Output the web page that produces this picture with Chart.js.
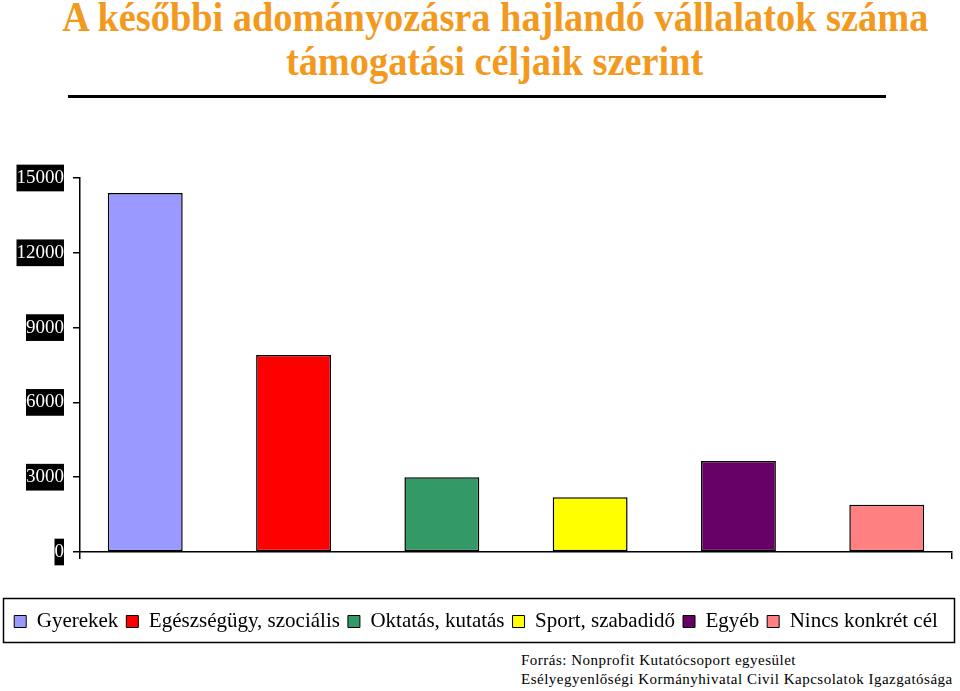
<!DOCTYPE html>
<html>
<head>
<meta charset="utf-8">
<script src="https://cdn.jsdelivr.net/npm/chart.js@4"></script>
<style>
  html, body { margin: 0; padding: 0; background: #fff; }
  body { width: 960px; height: 691px; position: relative; overflow: hidden; font-family: 'Liberation Serif', serif; }
  .title { position: absolute; left: 0; width: 990px; text-align: center; color: #F39A1E; font-family: 'Liberation Serif', serif; font-weight: bold; font-size: 42px; line-height: 45px; white-space: nowrap; }
  .title span { display: inline-block; transform-origin: center; }
  #rule { position: absolute; left: 68px; top: 95px; width: 818px; height: 3px; background: #000; }
  #chartbox { position: absolute; left: 0; top: 150px; width: 960px; height: 500px; }
  .source { position: absolute; left: 521px; font-size: 15px; line-height: 19px; color: #000; white-space: nowrap; letter-spacing: 0.5px; }
</style>
</head>
<body>
<div class="title" id="t1" style="top:-5px"><span>A későbbi adományozásra hajlandó vállalatok száma</span></div>
<div class="title" id="t2" style="top:39px"><span>támogatási céljaik szerint</span></div>
<div id="rule"></div>
<div id="chartbox"><canvas id="bar_chart"></canvas></div>
<div class="source" style="top:651px">Forrás: Nonprofit Kutatócsoport egyesület</div>
<div class="source" style="top:670px">Esélyegyenlőségi Kormányhivatal Civil Kapcsolatok Igazgatósága</div>

<script>
// categories and values
const categories = ['Gyerekek', 'Egészségügy, szociális', 'Oktatás, kutatás', 'Sport, szabadidő', 'Egyéb', 'Nincs konkrét cél'];
const companies = [14400, 7900, 3000, 2200, 3650, 1900];
const y_ticks = [0, 3000, 6000, 9000, 12000, 15000];
const colours = ['#9999FF', '#FF0000', '#339966', '#FFFF00', '#660066', '#FF8080'];

// squeeze the title a bit, the original font is narrower
const line1 = document.querySelector('#t1 span');
const squeeze = 866 / line1.getBoundingClientRect().width;
document.querySelectorAll('.title span').forEach(function (s) {
    s.style.transform = 'scaleX(' + squeeze + ')';
});

// box round the legend (a little taller than chart.js' own legend box)
const legendBorder = {
    id: 'legendBorder',
    afterDraw(chart) {
        const lg = chart.legend;
        const ctx = chart.ctx;
        ctx.save();
        ctx.strokeStyle = '#000';
        ctx.lineWidth = 1.5;
        ctx.strokeRect(3.5, lg.top - 4.5, 951, lg.bottom - lg.top + 5);
        ctx.restore();
    }
};

const serif = "'Liberation Serif', 'Times New Roman', serif";

// bars sit on a numeric x axis so the outer gap can be a bit less than half a slot, like excel
const points = categories.map(function (c, i) { return { x: i, y: companies[i] }; });
const edge = 0.44;

var canvas = document.getElementById('bar_chart');
var chart = new Chart(canvas, {
    type: 'bar',
    data: {
        labels: categories,
        datasets: [{
            label: 'Vállalatok száma',
            data: points,
            backgroundColor: colours,
            borderColor: '#000',
            borderWidth: 1.5,
            borderSkipped: false,
            barPercentage: 0.505,
            categoryPercentage: 1
        }]
    },
    options: {
        responsive: true,
        maintainAspectRatio: false,
        animation: false,
        layout: { padding: { top: 28, right: 8, bottom: 8, left: 0 } },
        plugins: {
            tooltip: { enabled: false },
            legend: {
                position: 'bottom',
                labels: {
                    color: '#000',
                    font: { family: serif, size: 21, lineHeight: 1.38 },
                    boxWidth: 12,
                    boxHeight: 12,
                    padding: 8,
                    generateLabels: function (ch) {
                        return ch.data.labels.map(function (lab, i) {
                            return {
                                text: lab,
                                fillStyle: colours[i],
                                strokeStyle: '#000',
                                lineWidth: 1,
                                hidden: false,
                                index: i,
                                datasetIndex: 0
                            };
                        });
                    }
                }
            }
        },
        scales: {
            x: {
                type: 'linear',
                offset: false,
                min: -edge,
                max: categories.length - 1 + edge,
                afterFit: function (s) { s.height = 51; },
                // only the two end tick marks are drawn
                afterBuildTicks: function (s) {
                    s.ticks = [{ value: -edge }, { value: categories.length - 1 + edge }];
                },
                ticks: { display: false },
                grid: {
                    offset: false,
                    drawOnChartArea: false,
                    drawTicks: true,
                    tickLength: 7,
                    lineWidth: 1.5,
                    color: '#000'
                },
                border: { display: true, color: '#000', width: 1.5 }
            },
            y: {
                min: y_ticks[0],
                max: y_ticks[y_ticks.length - 1],
                afterFit: function (s) { s.width = 80; },
                afterBuildTicks: function (s) {
                    s.ticks = y_ticks.map(function (v) { return { value: v }; });
                },
                ticks: {
                    color: '#fff',
                    font: { family: serif, size: 19, lineHeight: 1.3 },
                    padding: 9,
                    showLabelBackdrop: true,
                    backdropColor: '#000',
                    backdropPadding: { top: 1, bottom: 1, left: 0, right: 0 },
                    callback: function (v) { return String(v); }
                },
                grid: {
                    drawOnChartArea: false,
                    drawTicks: true,
                    tickLength: 7,
                    lineWidth: 1.5,
                    color: '#000'
                },
                border: { display: true, color: '#000', width: 1.5 }
            }
        }
    },
    plugins: [legendBorder]
});
</script>
</body>
</html>
